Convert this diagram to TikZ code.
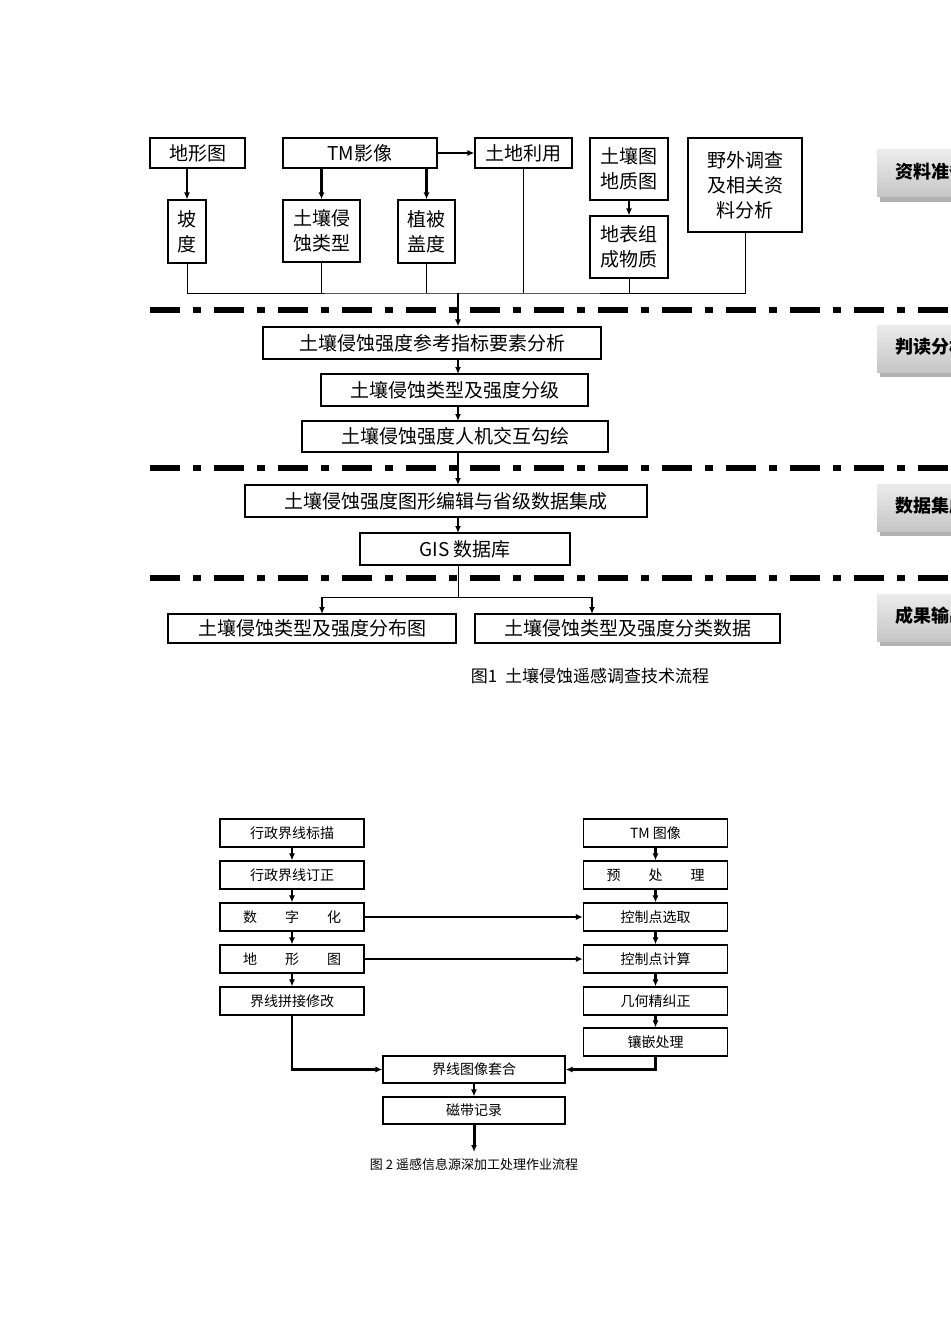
\documentclass[tikz,border=0pt]{standalone}
\usepackage{fontspec}
\setmainfont{Noto Sans CJK SC}
\usetikzlibrary{arrows.meta}
\tikzset{
 box/.style={draw,line width=1.2bp,inner sep=0pt,align=left,font=\fontsize{19bp}{25bp}\selectfont},
 sbox/.style={draw,line width=1.2bp,inner sep=0pt,minimum width=144bp,minimum height=28bp,font=\fontsize{14bp}{16bp}\selectfont},
 arr/.style={line width=2.2bp,-{Latex[length=7bp,width=6bp]}},
 ln/.style={line width=1bp},
 sep/.style={line width=6bp,dash pattern=on 30bp off 13bp on 8bp off 13bp},
 tag/.style={font=\fontsize{18bp}{20bp}\selectfont\bfseries,anchor=west}
}
\begin{document}
\begin{tikzpicture}[x=1bp,y=-1bp]
\useasboundingbox (0,0) rectangle (950,1344);
% top row
\node[box,minimum width=95bp,minimum height=30bp,align=center] (dxt) at (197.5,153) {地形图};
\node[box,minimum width=154bp,minimum height=30bp,align=center] (tm) at (360,153) {TM影像};
\node[box,minimum width=97bp,minimum height=30bp,align=center] (tdly) at (523.5,153) {土地利用};
\node[box,minimum width=78bp,minimum height=62bp,align=center] (trt) at (629,169) {土壤图\\地质图};
\node[box,minimum width=114bp,minimum height=94bp,align=center] (yw) at (745,185) {野外调查\\及相关资\\料分析};
\node[box,minimum width=38bp,minimum height=63bp] (pd) at (187,231.5) {坡\\度};
\node[box,minimum width=77bp,minimum height=62bp] (qslx) at (321.5,231) {土壤侵\\蚀类型};
\node[box,minimum width=57bp,minimum height=63bp] (zb) at (426.5,231.5) {植被\\盖度};
\node[box,minimum width=78bp,minimum height=62bp] (db) at (629,247) {地表组\\成物质};
\coordinate (bus) at (458,293);
\draw[arr] (dxt.south -| pd) -- (pd);
\draw[arr] (tm.south -| qslx) -- (qslx);
\draw[arr] (tm.south -| zb) -- (zb);
\draw[arr] (tm) -- (tdly);
\draw[arr] (trt) -- (db);
\draw[ln] (pd.south) |- (bus) -| (yw.south);
\draw[ln] (qslx.south) -- (qslx.south |- bus);
\draw[ln] (zb.south) -- (zb.south |- bus);
\draw[ln] (tdly.south) -- (tdly.south |- bus);
\draw[ln] (db.south) -- (db.south |- bus);
% separators
\foreach \yy in {310,468,578} \draw[sep] (150,\yy) -- (950,\yy);
% middle chain
\node[box,minimum width=338bp,minimum height=32bp,align=center] (a1) at (432,343) {土壤侵蚀强度参考指标要素分析};
\node[box,minimum width=267bp,minimum height=32bp,align=center] (a2) at (454.5,390) {土壤侵蚀类型及强度分级};
\node[box,minimum width=306bp,minimum height=31bp,align=center] (a3) at (455,436.5) {土壤侵蚀强度人机交互勾绘};
\node[box,minimum width=402bp,minimum height=32bp,align=center] (a4) at (446,501) {土壤侵蚀强度图形编辑与省级数据集成};
\node[box,minimum width=210bp,minimum height=32bp,align=center] (a5) at (465,549) {GIS 数据库};
\node[box,minimum width=288bp,minimum height=29bp,align=center] (o1) at (312,628.5) {土壤侵蚀类型及强度分布图};
\node[box,minimum width=305bp,minimum height=29bp,align=center] (o2) at (627.5,628.5) {土壤侵蚀类型及强度分类数据};
\draw[arr] (bus) -- (bus |- a1.north);
\draw[arr] (458,359) -- (458,374);
\draw[arr] (458,406) -- (458,421);
\draw[arr] (458,452) -- (458,485);
\draw[arr] (458,517) -- (458,533);
\coordinate (sp) at (458,597);
\draw[ln] (458,565) -- (sp);
\draw[ln] (322,597) -- (592,597);
\draw[arr] (322,597) -- (322,614);
\draw[arr] (592,597) -- (592,614);
\node[font=\fontsize{17bp}{20bp}\selectfont] (cap1) at (590,676) {图1\ \ 土壤侵蚀遥感调查技术流程};
% side tags
\foreach \yy/\t/\n in {150/资料准备/t1,325/判读分析/t2,484/数据集成/t3,594/成果输出/t4}{
  \fill[gray!60] (880,\yy+5) rectangle (960,\yy+52);
  \shade[top color=gray!15,bottom color=gray!45] (877,\yy) rectangle (960,\yy+47);
  \node[tag] (\n) at (892,\yy+22) {\t};
}
% second diagram
\node[sbox] (l1) at (292,833) {行政界线标描};
\node[sbox] (l2) at (292,875) {行政界线订正};
\node[sbox] (l3) at (292,917) {数　　字　　化};
\node[sbox] (l4) at (292,959) {地　　形　　图};
\node[sbox] (l5) at (292,1001) {界线拼接修改};
\node[sbox] (r1) at (655.5,833) {TM 图像};
\node[sbox] (r2) at (655.5,875) {预　　处　　理};
\node[sbox] (r3) at (655.5,917) {控制点选取};
\node[sbox] (r4) at (655.5,959) {控制点计算};
\node[sbox] (r5) at (655.5,1001) {几何精纠正};
\node[sbox] (r6) at (655.5,1042) {镶嵌处理};
\node[sbox,minimum width=182bp,minimum height=27bp] (c1) at (474,1069.5) {界线图像套合};
\node[sbox,minimum width=182bp,minimum height=27bp] (c2) at (474,1110.5) {磁带记录};
\coordinate (end) at (474,1152);
\draw[arr] (l1) -- (l2); \draw[arr] (l2) -- (l3); \draw[arr] (l3) -- (l4); \draw[arr] (l4) -- (l5);
\draw[arr] (r1) -- (r2); \draw[arr] (r2) -- (r3); \draw[arr] (r3) -- (r4); \draw[arr] (r4) -- (r5); \draw[arr] (r5) -- (r6);
\draw[arr,line width=2.6bp] (l3) -- (r3);
\draw[arr,line width=1.6bp] (l4) -- (r4);
\draw[arr] (l5.south) |- (c1.west);
\draw[arr] (r6.south) |- (c1.east);
\draw[arr] (c1) -- (c2);
\draw[arr,line width=3bp] (c2) -- (end);
\node[font=\fontsize{13bp}{15bp}\selectfont] (cap2) at (474,1164) {图 2 遥感信息源深加工处理作业流程};
\end{tikzpicture}
\end{document}
